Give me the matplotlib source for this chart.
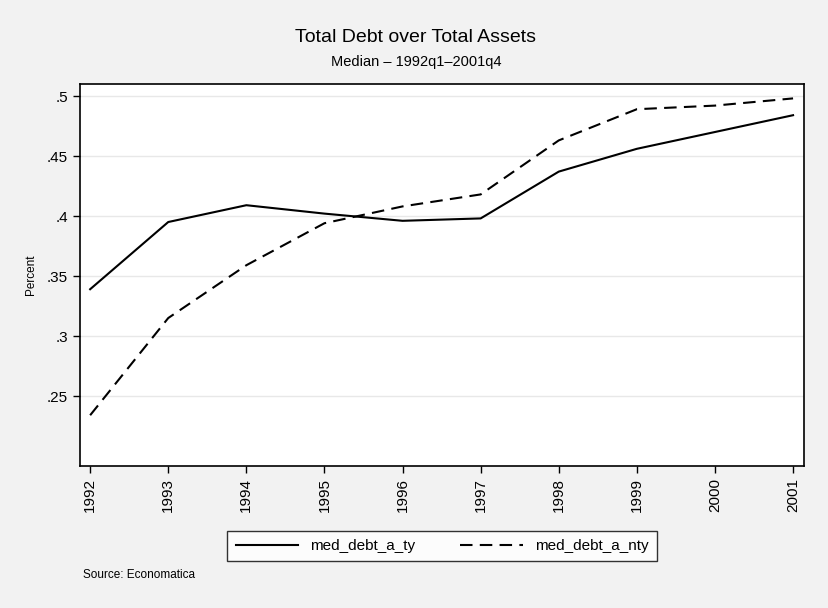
import matplotlib
matplotlib.use("Agg")
import matplotlib.pyplot as plt

plt.rcParams['font.family'] = ['Liberation Sans', 'DejaVu Sans']

years = [1992, 1993, 1994, 1995, 1996, 1997, 1998, 1999, 2000, 2001]
med_debt_a_ty = [.339, .395, .409, .402, .396, .398, .437, .456, .470, .484]
med_debt_a_nty = [.234, .315, .359, .394, .408, .418, .463, .489, .492, .498]
yticks = [.25, .3, .35, .4, .45, .5]
ytick_labels = [".25", ".3", ".35", ".4", ".45", ".5"]

bg = "#f2f2f2"
fig = plt.figure(figsize=(8.29, 6.08), dpi=100, facecolor=bg)
ax = fig.add_axes([80 / 829, 1 - 466 / 608, 724 / 829, 382 / 608])
ax.set_facecolor("white")

ax.plot(years, med_debt_a_ty, color="black", lw=1.5, label="med_debt_a_ty")
ax.plot(years, med_debt_a_nty, color="black", lw=1.5, dashes=(6, 3.5), label="med_debt_a_nty")

ax.set_xlim(1991.87, 2001.14)
ax.set_ylim(.1917, .51)
ax.set_yticks(yticks)
ax.set_yticklabels(ytick_labels)
ax.set_xticks(years)
ax.set_xticklabels([str(y) for y in years], rotation=90)
ax.tick_params(labelsize=11, length=5, width=1, direction="out")
ax.grid(axis="y", color="#e8e8e8", lw=1)
ax.set_axisbelow(True)
for s in ax.spines.values():
    s.set_linewidth(1.2)
ax.set_ylabel("Percent", fontsize=8.5, labelpad=7)

fig.text(416 / 829, 1 - 37 / 608, "Total Debt over Total Assets", ha="center", va="center", fontsize=14)
fig.text(416 / 829, 1 - 62 / 608, "Median \u2013 1992q1\u20132001q4", ha="center", va="center", fontsize=10.5)
fig.text(83 / 829, 1 - 575 / 608, "Source: Economatica", ha="left", va="center", fontsize=8.5)

leg = fig.legend(loc="center", bbox_to_anchor=(442 / 829, 1 - 546 / 608), ncol=2,
                 frameon=True, fancybox=False, fontsize=11, handlelength=4.1,
                 handletextpad=0.8, columnspacing=2.9, borderpad=0.55,
                 edgecolor="black")
leg.get_frame().set_linewidth(1)

fig.savefig("out.png", dpi=100, facecolor=bg)
